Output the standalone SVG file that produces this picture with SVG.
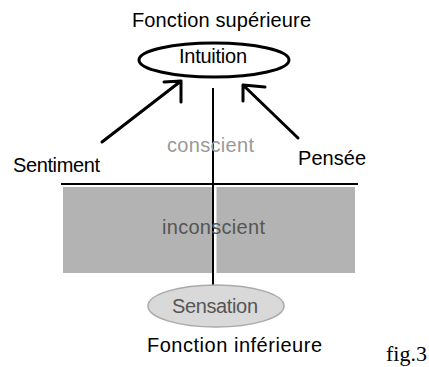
<svg xmlns="http://www.w3.org/2000/svg" width="429" height="367" viewBox="0 0 429 367">
<style>
.t{font-family:"Liberation Sans",Arial,sans-serif;font-size:20px}
.ln{stroke:#000;stroke-width:3;fill:none;stroke-linecap:round;stroke-linejoin:round}
</style>
<rect width="429" height="367" fill="#fff"/>
<rect x="63" y="187" width="292" height="86" fill="#b3b3b3"/>
<rect x="214" y="187" width="2.5" height="86" fill="#fff"/>
<g id="connectors">
<line x1="61" y1="184" x2="358" y2="184" stroke="#000" stroke-width="2"/>
<line x1="213" y1="88" x2="213" y2="285" stroke="#000" stroke-width="2"/>
<path class="ln" d="M102,142 L181,81 M164,82 L181,81 L181,102"/>
<path class="ln" d="M298,138 L243,85 M265,87 L243,85 L243,101"/>
</g>
<g id="title"><text class="t" x="132" y="27" textLength="179">Fonction supérieure</text></g>
<g id="intuition">
<ellipse cx="214" cy="60" rx="75" ry="17" fill="#fff" stroke="#000" stroke-width="3"/>
<text class="t" x="179" y="63" textLength="68">Intuition</text>
</g>
<g id="sentiment"><text class="t" x="13" y="172" textLength="87">Sentiment</text></g>
<g id="pensee"><text class="t" x="298" y="165" textLength="68">Pensée</text></g>
<g id="conscient"><text class="t" x="167" y="152" fill="#999" textLength="87">conscient</text></g>
<g id="inconscient"><text class="t" x="162" y="234" fill="#555" textLength="103">inconscient</text></g>
<g id="sensation">
<ellipse cx="216" cy="306" rx="68" ry="21" fill="#d9d9d9" stroke="#aaa" stroke-width="1.5"/>
<text class="t" x="172" y="313" fill="#555" textLength="86">Sensation</text>
</g>
<g id="inferieure"><text class="t" x="147" y="352" textLength="175">Fonction inférieure</text></g>
<g id="fig"><text x="386" y="361" font-family="'Liberation Serif','Times New Roman',serif" font-size="22">fig.3</text></g>
</svg>
